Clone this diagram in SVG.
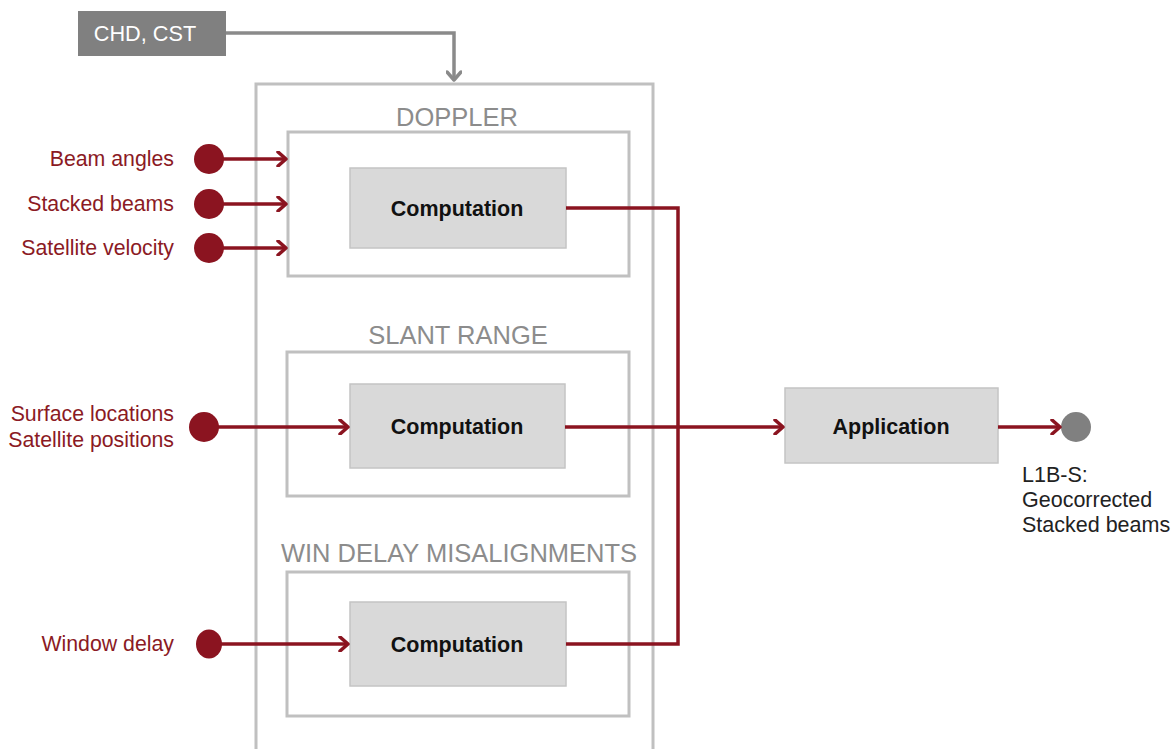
<svg xmlns="http://www.w3.org/2000/svg" width="1173" height="749" viewBox="0 0 1173 749">
<style>
.frame{fill:none;stroke:#c0c0c0;stroke-width:3}
.comp{fill:#d9d9d9;stroke:#c4c4c4;stroke-width:1.5}
.title{font-family:"Liberation Sans",Arial,sans-serif;font-size:25.5px;fill:#8c8c8c;text-anchor:middle}
.ctext{font-family:"Liberation Sans",Arial,sans-serif;font-size:21.5px;font-weight:bold;fill:#111;text-anchor:middle}
.lbl{font-family:"Liberation Sans",Arial,sans-serif;font-size:21.3px;fill:#8b1a24;text-anchor:end}
.out{font-family:"Liberation Sans",Arial,sans-serif;font-size:21.5px;fill:#222}
.red{fill:none;stroke:#8b1420;stroke-width:3.5}
.gray{fill:none;stroke:#8a8a8a;stroke-width:3.5}
.dot{fill:#8b1420}
</style>
<defs>
<marker id="ar" viewBox="0 0 12 16" refX="10" refY="8" markerWidth="12" markerHeight="16" markerUnits="userSpaceOnUse" orient="auto">
<path d="M2,1 L10,8 L2,15" fill="none" stroke="#8b1420" stroke-width="3.5" stroke-linecap="round" stroke-linejoin="round"/>
</marker>
<marker id="ag" viewBox="0 0 16 12" refX="8" refY="10" markerWidth="16" markerHeight="12" markerUnits="userSpaceOnUse" orient="0">
<path d="M1,2 L8,10 L15,2" fill="none" stroke="#8a8a8a" stroke-width="3.5" stroke-linecap="round" stroke-linejoin="round"/>
</marker>
</defs>
<rect width="1173" height="749" fill="#fff"/>

<g id="outer"><rect class="frame" x="256" y="84" width="397" height="700"/></g>

<g id="chd">
<rect x="78" y="11" width="148" height="45" fill="#808080"/>
<text x="145" y="41" font-family="Liberation Sans,Arial,sans-serif" font-size="21.7" fill="#fff" text-anchor="middle">CHD, CST</text>
</g>

<g id="doppler">
<text class="title" x="457" y="126">DOPPLER</text>
<rect class="frame" x="288" y="132" width="341" height="144"/>
</g>
<g id="comp1"><rect class="comp" x="350" y="168" width="216" height="80"/><text class="ctext" x="457" y="216">Computation</text></g>

<g id="slant">
<text class="title" x="458" y="344">SLANT RANGE</text>
<rect class="frame" x="287" y="352" width="342" height="144"/>
</g>
<g id="comp2"><rect class="comp" x="350" y="384" width="215" height="84"/><text class="ctext" x="457" y="434">Computation</text></g>

<g id="windelay">
<text class="title" x="459" y="562">WIN DELAY MISALIGNMENTS</text>
<rect class="frame" x="287" y="572" width="342" height="144"/>
</g>
<g id="comp3"><rect class="comp" x="350" y="602" width="216" height="84"/><text class="ctext" x="457" y="652">Computation</text></g>

<g id="application"><rect class="comp" x="785" y="388" width="213" height="75"/><text class="ctext" x="891" y="434">Application</text></g>

<g id="in-beam"><text class="lbl" x="174" y="166">Beam angles</text><circle class="dot" cx="209" cy="159" r="15"/></g>
<g id="in-stacked"><text class="lbl" x="174" y="211">Stacked beams</text><circle class="dot" cx="209" cy="204" r="15"/></g>
<g id="in-vel"><text class="lbl" x="174" y="255">Satellite velocity</text><circle class="dot" cx="209" cy="248" r="15"/></g>
<g id="in-surf"><text class="lbl" x="174" y="421">Surface locations</text><text class="lbl" x="174" y="447">Satellite positions</text><circle class="dot" cx="204" cy="427" r="15"/></g>
<g id="in-win"><text class="lbl" x="174" y="651">Window delay</text><ellipse class="dot" cx="209" cy="644" rx="13" ry="14.5"/></g>

<g id="output"><circle cx="1076" cy="427" r="15" fill="#808080"/>
<text class="out" x="1022" y="482">L1B-S:</text>
<text class="out" x="1022" y="507">Geocorrected</text>
<text class="out" x="1022" y="532">Stacked beams</text></g>

<g id="connectors">
<path class="gray" d="M226,33 H454 V80" marker-end="url(#ag)"/>
<path class="red" d="M209,159 H286" marker-end="url(#ar)"/>
<path class="red" d="M209,204 H286" marker-end="url(#ar)"/>
<path class="red" d="M209,248 H286" marker-end="url(#ar)"/>
<path class="red" d="M204,427 H348" marker-end="url(#ar)"/>
<path class="red" d="M209,644 H348" marker-end="url(#ar)"/>
<path class="red" d="M566,208 H678 V644 H566"/>
<path class="red" d="M565,427 H783" marker-end="url(#ar)"/>
<path class="red" d="M998,427 H1060" marker-end="url(#ar)"/>
</g>
</svg>
